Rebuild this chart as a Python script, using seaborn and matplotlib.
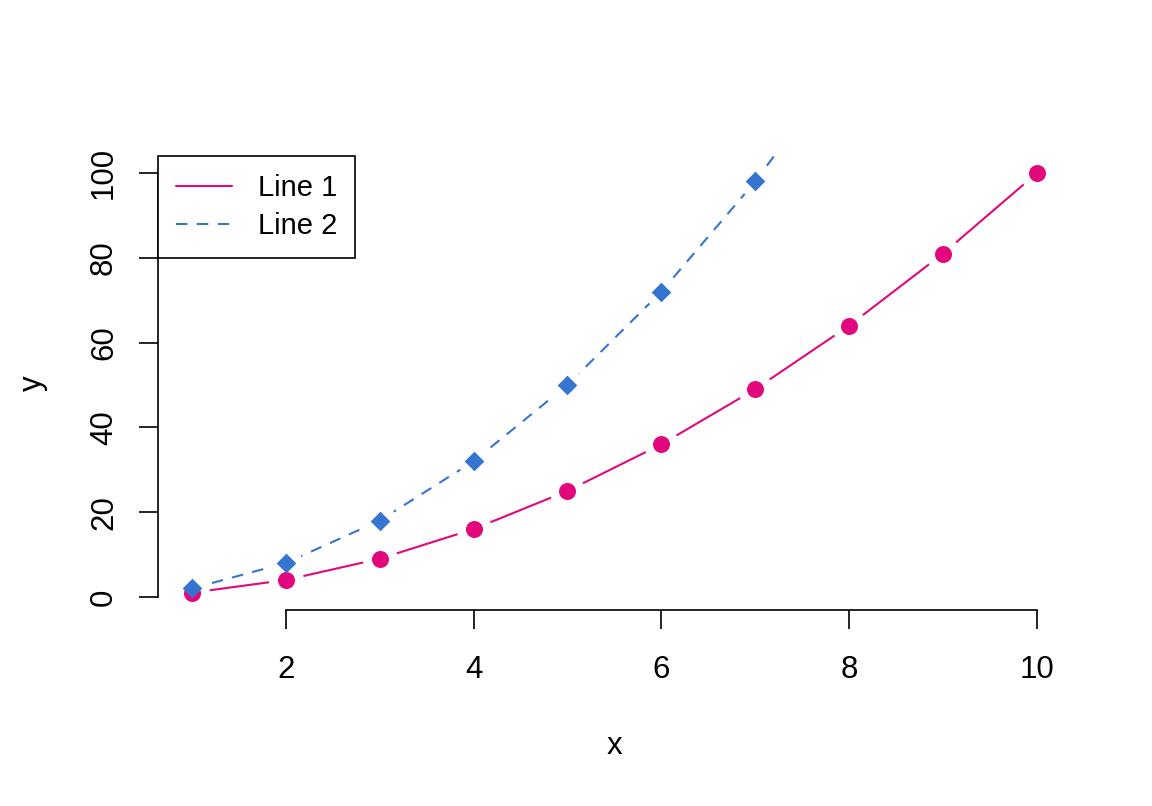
import numpy as np
import pandas as pd
import matplotlib
matplotlib.use("Agg")
import matplotlib.pyplot as plt
import seaborn as sns
from matplotlib.lines import Line2D

# data: two quadratic-looking series
x_vals = [1, 2, 3, 4, 5, 6, 7, 8, 9, 10]
line1_y = [1, 4, 9, 16, 25, 36, 49, 64, 81, 100]
line2_y = [2, 8, 18, 32, 50, 72, 98, 128, 162, 200]
series_names = ["Line 1", "Line 2"]
x_ticks = [2, 4, 6, 8, 10]
y_ticks = [0, 20, 40, 60, 80, 100]

PINK = "#E2077C"
BLUE = "#3574CF"
FS = 22.5

sns.set_style("ticks")
plt.rcParams["font.family"] = ["Liberation Sans", "DejaVu Sans"]
plt.rcParams["text.color"] = "black"
plt.rcParams["axes.labelcolor"] = "black"

df = pd.DataFrame({
    "x": x_vals * 2,
    "y": line1_y + line2_y,
    "series": [series_names[0]] * len(x_vals) + [series_names[1]] * len(x_vals),
})

fig = plt.figure(figsize=(11.52, 8.06), dpi=100)
ax = fig.add_axes([158 / 1152, 1 - 609.5 / 806, (1070.8 - 158) / 1152, (609.5 - 156.2) / 806])

# lines
sns.lineplot(data=df, x="x", y="y", hue="series", style="series",
             palette=[PINK, BLUE], dashes=[(1, 0), (5.5, 4.5)],
             linewidth=1.5, ax=ax, legend=False, zorder=1)

# white halos make the "type = b" gaps around points
d1 = df[df["series"] == series_names[0]]
d2 = df[df["series"] == series_names[1]]
ax.scatter(d1["x"], d1["y"], s=640, color="white", zorder=2, linewidths=0)
ax.scatter(d2["x"], d2["y"], s=560, color="white", zorder=2, linewidths=0)
sns.scatterplot(x=d1["x"], y=d1["y"], color=PINK, s=150, marker="o",
                linewidth=0, ax=ax, zorder=3)
sns.scatterplot(x=d2["x"], y=d2["y"], color=BLUE, s=100, marker="D",
                linewidth=0, ax=ax, zorder=4)

ax.set_xlim(0.64, 10.36)
ax.set_ylim(-2.96, 103.96)
ax.set_xticks(x_ticks)
ax.set_yticks(y_ticks)
ax.set_xticklabels([str(v) for v in x_ticks], fontsize=FS)
ax.set_yticklabels([str(v) for v in y_ticks], fontsize=FS, rotation=90, va="center")
ax.tick_params(axis="both", length=14, width=1.2, color="black", labelcolor="black")
ax.tick_params(axis="x", pad=19)
ax.tick_params(axis="y", pad=14)

for side in ["top", "right"]:
    ax.spines[side].set_visible(False)
ax.spines["left"].set_bounds(0, 100)
ax.spines["bottom"].set_bounds(2, 10)
for side in ["left", "bottom"]:
    ax.spines[side].set_linewidth(1.2)
    ax.spines[side].set_color("black")

ax.set_xlabel("x", fontsize=FS, labelpad=33)
ax.set_ylabel("y", fontsize=FS, labelpad=30)

handles = [Line2D([], [], color=PINK, lw=1.5),
           Line2D([], [], color=BLUE, lw=1.5, dashes=(5.5, 4.5))]
leg = ax.legend(handles, series_names, loc="upper left", bbox_to_anchor=(0, 1),
                borderaxespad=0, fontsize=21, frameon=True, fancybox=False,
                framealpha=1, handlelength=1.9, handletextpad=0.9, borderpad=0.62,
                labelspacing=0.34, labelcolor="black")
leg.get_frame().set_edgecolor("black")
leg.get_frame().set_linewidth(1.2)

fig.savefig("out.png", dpi=100)
